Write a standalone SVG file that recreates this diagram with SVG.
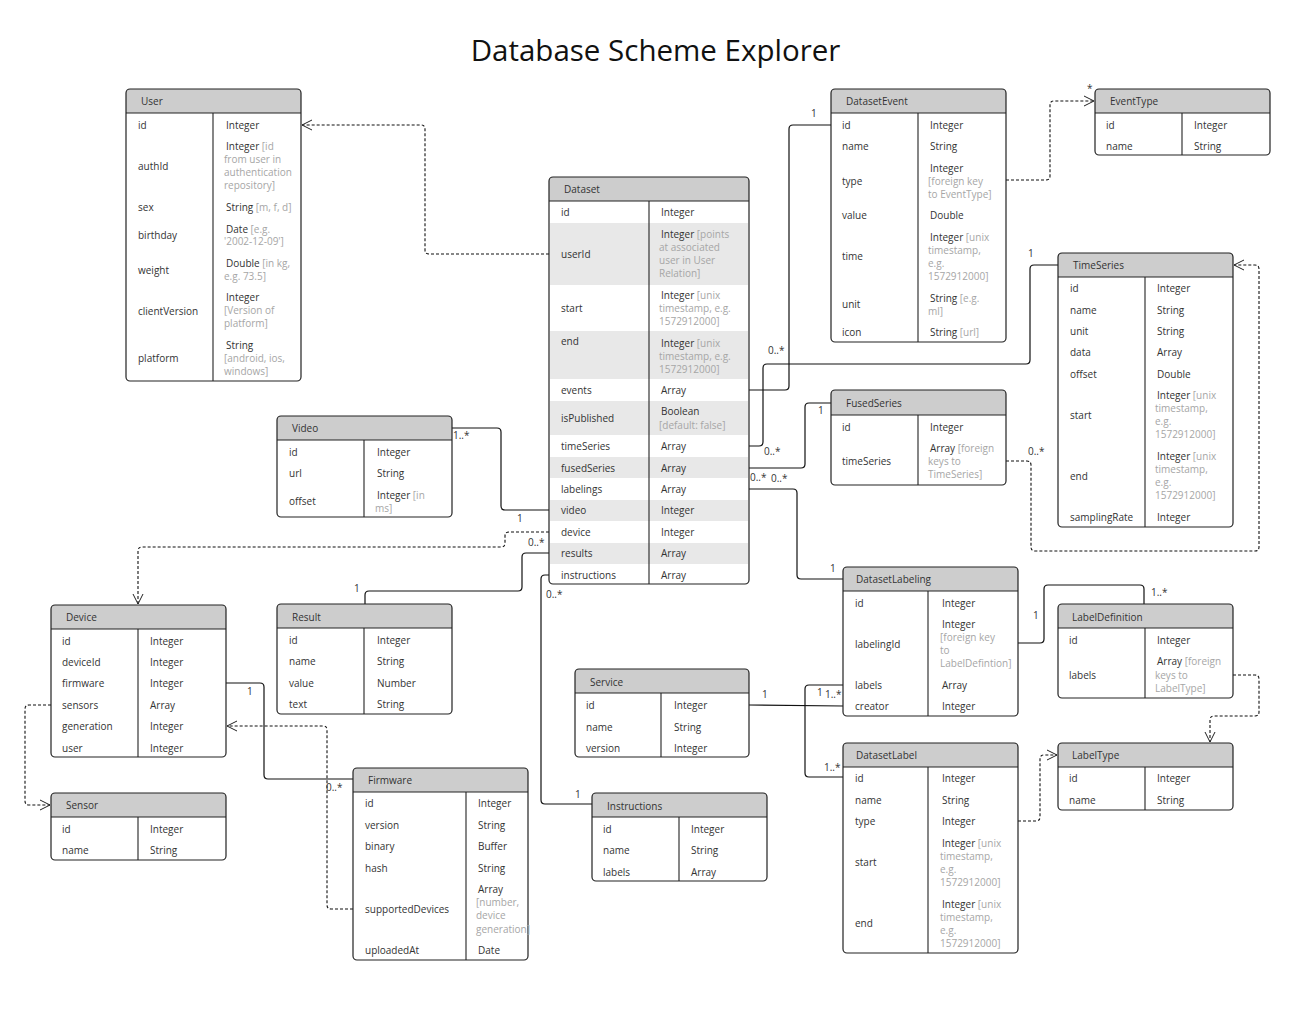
<svg xmlns="http://www.w3.org/2000/svg" width="1305" height="1018" viewBox="0 0 1305 1018">
<style>
text{font-family:"Open Sans","Noto Sans","DejaVu Sans",sans-serif;font-size:10px;fill:#333}
.ttl{font-size:29.5px;fill:#111}
.a{fill:#a6a6a6}
.bg{fill:#fff;stroke:none}
.hd{fill:#cdcdcd;stroke:none}
.sh{fill:#e8e8e8;stroke:none}
.ln{stroke:#222;stroke-width:1.1;fill:none}
.ol{fill:none;stroke:#222;stroke-width:1.2}
.c{fill:none;stroke:#111;stroke-width:1.2}
.d{fill:none;stroke:#111;stroke-width:1.1;stroke-dasharray:3 2}
</style>
<defs>
<marker id="arr" viewBox="0 0 12 12" refX="11" refY="6" markerWidth="12" markerHeight="12" markerUnits="userSpaceOnUse" orient="auto">
<path d="M1,1 L11,6 L1,11" fill="none" stroke="#222" stroke-width="1"/>
</marker>
</defs>
<rect width="1305" height="1018" fill="#fff"/>
<text x="655.5" y="61" text-anchor="middle" class="ttl">Database Scheme Explorer</text>

<g id="connectors">
<path class="d" marker-end="url(#arr)" d="M549,254H429Q425,254 425,250V129Q425,125 421,125H302"/>
<path class="c" d="M749,390H785Q789,390 789,386V129Q789,125 793,125H831"/>
<path class="c" d="M749,446H759Q763,446 763,442V368Q763,364 767,364H1026Q1030,364 1030,360V269Q1030,265 1034,265H1058"/>
<path class="c" d="M749,468H801Q805,468 805,464V407Q805,403 809,403H831"/>
<path class="c" d="M749,489H793Q797,489 797,493V575Q797,579 801,579H843"/>
<path class="c" d="M549,510H505Q501,510 501,506V432Q501,428 497,428H452"/>
<path class="d" marker-end="url(#arr)" d="M549,532H509Q505,532 505,536V543Q505,547 501,547H142Q138,547 138,551V604"/>
<path class="c" d="M549,553H526Q522,553 522,557V587Q522,591 518,591H369Q365,591 365,595V604"/>
<path class="c" d="M549,575H545Q541,575 541,579V800Q541,804 545,804H592"/>
<path class="c" d="M226,683H260Q264,683 264,687V775Q264,779 268,779H353"/>
<path class="d" marker-end="url(#arr)" d="M353,909H331Q327,909 327,905V730Q327,726 323,726H227"/>
<path class="d" marker-end="url(#arr)" d="M51,705H29Q25,705 25,709V801Q25,805 29,805H50"/>
<path class="d" marker-end="url(#arr)" d="M1006,180H1046Q1050,180 1050,176V105Q1050,101 1054,101H1094"/>
<path class="d" marker-end="url(#arr)" d="M1006,461H1027Q1031,461 1031,465V547Q1031,551 1035,551H1255Q1259,551 1259,547V269Q1259,265 1255,265H1234"/>
<path class="c" d="M749,705L843,706"/>
<path class="c" d="M843,685H809Q805,685 805,689V773Q805,777 809,777H843"/>
<path class="c" d="M1018,643H1040Q1044,643 1044,639V589Q1044,585 1048,585H1140Q1144,585 1144,589V604"/>
<path class="d" marker-end="url(#arr)" d="M1233,675H1255Q1259,675 1259,679V712Q1259,716 1255,716H1214Q1210,716 1210,720V742"/>
<path class="d" marker-end="url(#arr)" d="M1018,821H1036Q1040,821 1040,817V759Q1040,755 1044,755H1057"/>
<text x="811" y="117">1</text>
<text x="768" y="354">0..*</text>
<text x="1028" y="257">1</text>
<text x="764" y="455">0..*</text>
<text x="818" y="414">1</text>
<text x="750" y="481">0..*</text>
<text x="771" y="482">0..*</text>
<text x="830" y="572">1</text>
<text x="453" y="439">1..*</text>
<text x="517" y="522">1</text>
<text x="528" y="546">0..*</text>
<text x="354" y="592">1</text>
<text x="546" y="598">0..*</text>
<text x="575" y="798">1</text>
<text x="247" y="695">1</text>
<text x="326" y="791">0..*</text>
<text x="1087" y="92">*</text>
<text x="1028" y="455">0..*</text>
<text x="762" y="698">1</text>
<text x="817" y="696">1</text>
<text x="825" y="698">1..*</text>
<text x="824" y="771">1..*</text>
<text x="1033" y="619">1</text>
<text x="1151" y="596">1..*</text>
</g>

<g id="user">
<rect x="126" y="89" width="175" height="292" rx="4" class="bg"/>
<path class="hd" d="M126,113V93Q126,89 130,89H297Q301,89 301,93V113Z"/>
<line class="ln" x1="126" y1="113" x2="301" y2="113"/>
<line class="ln" x1="213" y1="113" x2="213" y2="381"/>
<rect x="126" y="89" width="175" height="292" rx="4" class="ol"/>
<text x="141" y="105">User</text>
<text x="138" y="129">id</text><text x="226" y="129">Integer</text>
<text x="138" y="170">authId</text>
<text x="226" y="150">Integer <tspan class="a">[id</tspan></text>
<text x="224" y="163" class="a">from user in</text>
<text x="224" y="176" class="a">authentication</text>
<text x="224" y="189" class="a">repository]</text>
<text x="138" y="211">sex</text><text x="226" y="211">String <tspan class="a">[m, f, d]</tspan></text>
<text x="138" y="239">birthday</text>
<text x="226" y="233">Date <tspan class="a">[e.g.</tspan></text>
<text x="224" y="245" class="a">'2002-12-09']</text>
<text x="138" y="274">weight</text>
<text x="226" y="267">Double <tspan class="a">[in kg,</tspan></text>
<text x="224" y="280" class="a">e.g. 73.5]</text>
<text x="138" y="315">clientVersion</text>
<text x="226" y="301">Integer</text>
<text x="224" y="314" class="a">[Version of</text>
<text x="224" y="327" class="a">platform]</text>
<text x="138" y="362">platform</text>
<text x="226" y="349">String</text>
<text x="224" y="362" class="a">[android, ios,</text>
<text x="224" y="375" class="a">windows]</text>
</g>

<g id="dataset">
<rect x="549" y="177" width="200" height="407" rx="4" class="bg"/>
<path class="hd" d="M549,201V181Q549,177 553,177H745Q749,177 749,181V201Z"/>
<rect class="sh" x="550" y="223" width="198" height="62"/>
<rect class="sh" x="550" y="331" width="198" height="48"/>
<rect class="sh" x="550" y="401" width="198" height="34"/>
<rect class="sh" x="550" y="457" width="198" height="21"/>
<rect class="sh" x="550" y="500" width="198" height="21"/>
<rect class="sh" x="550" y="543" width="198" height="21"/>
<line class="ln" x1="549" y1="201" x2="749" y2="201"/>
<line class="ln" x1="649" y1="201" x2="649" y2="584"/>
<rect x="549" y="177" width="200" height="407" rx="4" class="ol"/>
<text x="564" y="193">Dataset</text>
<text x="561" y="216">id</text><text x="661" y="216">Integer</text>
<text x="561" y="258">userId</text>
<text x="661" y="238">Integer <tspan class="a">[points</tspan></text>
<text x="659" y="251" class="a">at associated</text>
<text x="659" y="264" class="a">user in User</text>
<text x="659" y="277" class="a">Relation]</text>
<text x="561" y="312">start</text>
<text x="661" y="299">Integer <tspan class="a">[unix</tspan></text>
<text x="659" y="312" class="a">timestamp, e.g.</text>
<text x="659" y="325" class="a">1572912000]</text>
<text x="561" y="345">end</text>
<text x="661" y="347">Integer <tspan class="a">[unix</tspan></text>
<text x="659" y="360" class="a">timestamp, e.g.</text>
<text x="659" y="373" class="a">1572912000]</text>
<text x="561" y="394">events</text><text x="661" y="394">Array</text>
<text x="561" y="422">isPublished</text>
<text x="661" y="415">Boolean</text>
<text x="659" y="429" class="a">[default: false]</text>
<text x="561" y="450">timeSeries</text><text x="661" y="450">Array</text>
<text x="561" y="472">fusedSeries</text><text x="661" y="472">Array</text>
<text x="561" y="493">labelings</text><text x="661" y="493">Array</text>
<text x="561" y="514">video</text><text x="661" y="514">Integer</text>
<text x="561" y="536">device</text><text x="661" y="536">Integer</text>
<text x="561" y="557">results</text><text x="661" y="557">Array</text>
<text x="561" y="579">instructions</text><text x="661" y="579">Array</text>
</g>

<g id="datasetevent">
<rect x="831" y="89" width="175" height="253" rx="4" class="bg"/>
<path class="hd" d="M831,113V93Q831,89 835,89H1002Q1006,89 1006,93V113Z"/>
<line class="ln" x1="831" y1="113" x2="1006" y2="113"/>
<line class="ln" x1="918" y1="113" x2="918" y2="342"/>
<rect x="831" y="89" width="175" height="253" rx="4" class="ol"/>
<text x="846" y="105">DatasetEvent</text>
<text x="842" y="129">id</text><text x="930" y="129">Integer</text>
<text x="842" y="150">name</text><text x="930" y="150">String</text>
<text x="842" y="185">type</text>
<text x="930" y="172">Integer</text>
<text x="928" y="185" class="a">[foreign key</text>
<text x="928" y="198" class="a">to EventType]</text>
<text x="842" y="219">value</text><text x="930" y="219">Double</text>
<text x="842" y="260">time</text>
<text x="930" y="241">Integer <tspan class="a">[unix</tspan></text>
<text x="928" y="254" class="a">timestamp,</text>
<text x="928" y="267" class="a">e.g.</text>
<text x="928" y="280" class="a">1572912000]</text>
<text x="842" y="308">unit</text>
<text x="930" y="302">String <tspan class="a">[e.g.</tspan></text>
<text x="928" y="315" class="a">ml]</text>
<text x="842" y="336">icon</text><text x="930" y="336">String <tspan class="a">[url]</tspan></text>
</g>

<g id="eventtype">
<rect x="1095" y="89" width="175" height="66" rx="4" class="bg"/>
<path class="hd" d="M1095,113V93Q1095,89 1099,89H1266Q1270,89 1270,93V113Z"/>
<line class="ln" x1="1095" y1="113" x2="1270" y2="113"/>
<line class="ln" x1="1182" y1="113" x2="1182" y2="155"/>
<rect x="1095" y="89" width="175" height="66" rx="4" class="ol"/>
<text x="1110" y="105">EventType</text>
<text x="1106" y="129">id</text><text x="1194" y="129">Integer</text>
<text x="1106" y="150">name</text><text x="1194" y="150">String</text>
</g>

<g id="timeseries">
<rect x="1058" y="253" width="175" height="274" rx="4" class="bg"/>
<path class="hd" d="M1058,277V257Q1058,253 1062,253H1229Q1233,253 1233,257V277Z"/>
<line class="ln" x1="1058" y1="277" x2="1233" y2="277"/>
<line class="ln" x1="1145" y1="277" x2="1145" y2="527"/>
<rect x="1058" y="253" width="175" height="274" rx="4" class="ol"/>
<text x="1073" y="269">TimeSeries</text>
<text x="1070" y="292">id</text><text x="1157" y="292">Integer</text>
<text x="1070" y="314">name</text><text x="1157" y="314">String</text>
<text x="1070" y="335">unit</text><text x="1157" y="335">String</text>
<text x="1070" y="356">data</text><text x="1157" y="356">Array</text>
<text x="1070" y="378">offset</text><text x="1157" y="378">Double</text>
<text x="1070" y="419">start</text>
<text x="1157" y="399">Integer <tspan class="a">[unix</tspan></text>
<text x="1155" y="412" class="a">timestamp,</text>
<text x="1155" y="425" class="a">e.g.</text>
<text x="1155" y="438" class="a">1572912000]</text>
<text x="1070" y="480">end</text>
<text x="1157" y="460">Integer <tspan class="a">[unix</tspan></text>
<text x="1155" y="473" class="a">timestamp,</text>
<text x="1155" y="486" class="a">e.g.</text>
<text x="1155" y="499" class="a">1572912000]</text>
<text x="1070" y="521">samplingRate</text><text x="1157" y="521">Integer</text>
</g>

<g id="fusedseries">
<rect x="831" y="390" width="175" height="95" rx="4" class="bg"/>
<path class="hd" d="M831,415V394Q831,390 835,390H1002Q1006,390 1006,394V415Z"/>
<line class="ln" x1="831" y1="415" x2="1006" y2="415"/>
<line class="ln" x1="918" y1="415" x2="918" y2="485"/>
<rect x="831" y="390" width="175" height="95" rx="4" class="ol"/>
<text x="846" y="407">FusedSeries</text>
<text x="842" y="431">id</text><text x="930" y="431">Integer</text>
<text x="842" y="465">timeSeries</text>
<text x="930" y="452">Array <tspan class="a">[foreign</tspan></text>
<text x="928" y="465" class="a">keys to</text>
<text x="928" y="478" class="a">TimeSeries]</text>
</g>

<g id="video">
<rect x="277" y="416" width="175" height="101" rx="4" class="bg"/>
<path class="hd" d="M277,440V420Q277,416 281,416H448Q452,416 452,420V440Z"/>
<line class="ln" x1="277" y1="440" x2="452" y2="440"/>
<line class="ln" x1="364" y1="440" x2="364" y2="517"/>
<rect x="277" y="416" width="175" height="101" rx="4" class="ol"/>
<text x="292" y="432">Video</text>
<text x="289" y="456">id</text><text x="377" y="456">Integer</text>
<text x="289" y="477">url</text><text x="377" y="477">String</text>
<text x="289" y="505">offset</text>
<text x="377" y="499">Integer <tspan class="a">[in</tspan></text>
<text x="375" y="512" class="a">ms]</text>
</g>

<g id="device">
<rect x="51" y="605" width="175" height="152" rx="4" class="bg"/>
<path class="hd" d="M51,629V609Q51,605 55,605H222Q226,605 226,609V629Z"/>
<line class="ln" x1="51" y1="629" x2="226" y2="629"/>
<line class="ln" x1="138" y1="629" x2="138" y2="757"/>
<rect x="51" y="605" width="175" height="152" rx="4" class="ol"/>
<text x="66" y="621">Device</text>
<text x="62" y="645">id</text><text x="150" y="645">Integer</text>
<text x="62" y="666">deviceId</text><text x="150" y="666">Integer</text>
<text x="62" y="687">firmware</text><text x="150" y="687">Integer</text>
<text x="62" y="709">sensors</text><text x="150" y="709">Array</text>
<text x="62" y="730">generation</text><text x="150" y="730">Integer</text>
<text x="62" y="752">user</text><text x="150" y="752">Integer</text>
</g>

<g id="sensor">
<rect x="51" y="793" width="175" height="67" rx="4" class="bg"/>
<path class="hd" d="M51,817V797Q51,793 55,793H222Q226,793 226,797V817Z"/>
<line class="ln" x1="51" y1="817" x2="226" y2="817"/>
<line class="ln" x1="138" y1="817" x2="138" y2="860"/>
<rect x="51" y="793" width="175" height="67" rx="4" class="ol"/>
<text x="66" y="809">Sensor</text>
<text x="62" y="833">id</text><text x="150" y="833">Integer</text>
<text x="62" y="854">name</text><text x="150" y="854">String</text>
</g>

<g id="result">
<rect x="277" y="604" width="175" height="110" rx="4" class="bg"/>
<path class="hd" d="M277,628V608Q277,604 281,604H448Q452,604 452,608V628Z"/>
<line class="ln" x1="277" y1="628" x2="452" y2="628"/>
<line class="ln" x1="364" y1="628" x2="364" y2="714"/>
<rect x="277" y="604" width="175" height="110" rx="4" class="ol"/>
<text x="292" y="621">Result</text>
<text x="289" y="644">id</text><text x="377" y="644">Integer</text>
<text x="289" y="665">name</text><text x="377" y="665">String</text>
<text x="289" y="687">value</text><text x="377" y="687">Number</text>
<text x="289" y="708">text</text><text x="377" y="708">String</text>
</g>

<g id="firmware">
<rect x="353" y="768" width="175" height="192" rx="4" class="bg"/>
<path class="hd" d="M353,792V772Q353,768 357,768H524Q528,768 528,772V792Z"/>
<line class="ln" x1="353" y1="792" x2="528" y2="792"/>
<line class="ln" x1="466" y1="792" x2="466" y2="960"/>
<rect x="353" y="768" width="175" height="192" rx="4" class="ol"/>
<text x="368" y="784">Firmware</text>
<text x="365" y="807">id</text><text x="478" y="807">Integer</text>
<text x="365" y="829">version</text><text x="478" y="829">String</text>
<text x="365" y="850">binary</text><text x="478" y="850">Buffer</text>
<text x="365" y="872">hash</text><text x="478" y="872">String</text>
<text x="365" y="913">supportedDevices</text>
<text x="478" y="893">Array</text>
<text x="476" y="906" class="a">[number,</text>
<text x="476" y="919" class="a">device</text>
<text x="476" y="933" class="a">generation]</text>
<text x="365" y="954">uploadedAt</text><text x="478" y="954">Date</text>
</g>

<g id="instructions">
<rect x="592" y="793" width="175" height="88" rx="4" class="bg"/>
<path class="hd" d="M592,817V797Q592,793 596,793H763Q767,793 767,797V817Z"/>
<line class="ln" x1="592" y1="817" x2="767" y2="817"/>
<line class="ln" x1="679" y1="817" x2="679" y2="881"/>
<rect x="592" y="793" width="175" height="88" rx="4" class="ol"/>
<text x="607" y="810">Instructions</text>
<text x="603" y="833">id</text><text x="691" y="833">Integer</text>
<text x="603" y="854">name</text><text x="691" y="854">String</text>
<text x="603" y="876">labels</text><text x="691" y="876">Array</text>
</g>

<g id="service">
<rect x="575" y="669" width="174" height="88" rx="4" class="bg"/>
<path class="hd" d="M575,693V673Q575,669 579,669H745Q749,669 749,673V693Z"/>
<line class="ln" x1="575" y1="693" x2="749" y2="693"/>
<line class="ln" x1="661" y1="693" x2="661" y2="757"/>
<rect x="575" y="669" width="174" height="88" rx="4" class="ol"/>
<text x="590" y="686">Service</text>
<text x="586" y="709">id</text><text x="674" y="709">Integer</text>
<text x="586" y="731">name</text><text x="674" y="731">String</text>
<text x="586" y="752">version</text><text x="674" y="752">Integer</text>
</g>

<g id="datasetlabeling">
<rect x="843" y="567" width="175" height="149" rx="4" class="bg"/>
<path class="hd" d="M843,591V571Q843,567 847,567H1014Q1018,567 1018,571V591Z"/>
<line class="ln" x1="843" y1="591" x2="1018" y2="591"/>
<line class="ln" x1="928" y1="591" x2="928" y2="716"/>
<rect x="843" y="567" width="175" height="149" rx="4" class="ol"/>
<text x="856" y="583">DatasetLabeling</text>
<text x="855" y="607">id</text><text x="942" y="607">Integer</text>
<text x="855" y="648">labelingId</text>
<text x="942" y="628">Integer</text>
<text x="940" y="641" class="a">[foreign key</text>
<text x="940" y="654" class="a">to</text>
<text x="940" y="667" class="a">LabelDefintion]</text>
<text x="855" y="689">labels</text><text x="942" y="689">Array</text>
<text x="855" y="710">creator</text><text x="942" y="710">Integer</text>
</g>

<g id="labeldefinition">
<rect x="1058" y="604" width="175" height="94" rx="4" class="bg"/>
<path class="hd" d="M1058,628V608Q1058,604 1062,604H1229Q1233,604 1233,608V628Z"/>
<line class="ln" x1="1058" y1="628" x2="1233" y2="628"/>
<line class="ln" x1="1145" y1="628" x2="1145" y2="698"/>
<rect x="1058" y="604" width="175" height="94" rx="4" class="ol"/>
<text x="1072" y="621">LabelDefinition</text>
<text x="1069" y="644">id</text><text x="1157" y="644">Integer</text>
<text x="1069" y="679">labels</text>
<text x="1157" y="665">Array <tspan class="a">[foreign</tspan></text>
<text x="1155" y="679" class="a">keys to</text>
<text x="1155" y="692" class="a">LabelType]</text>
</g>

<g id="datasetlabel">
<rect x="843" y="743" width="175" height="210" rx="4" class="bg"/>
<path class="hd" d="M843,767V747Q843,743 847,743H1014Q1018,743 1018,747V767Z"/>
<line class="ln" x1="843" y1="767" x2="1018" y2="767"/>
<line class="ln" x1="928" y1="767" x2="928" y2="953"/>
<rect x="843" y="743" width="175" height="210" rx="4" class="ol"/>
<text x="856" y="759">DatasetLabel</text>
<text x="855" y="782">id</text><text x="942" y="782">Integer</text>
<text x="855" y="804">name</text><text x="942" y="804">String</text>
<text x="855" y="825">type</text><text x="942" y="825">Integer</text>
<text x="855" y="866">start</text>
<text x="942" y="847">Integer <tspan class="a">[unix</tspan></text>
<text x="940" y="860" class="a">timestamp,</text>
<text x="940" y="873" class="a">e.g.</text>
<text x="940" y="886" class="a">1572912000]</text>
<text x="855" y="927">end</text>
<text x="942" y="908">Integer <tspan class="a">[unix</tspan></text>
<text x="940" y="921" class="a">timestamp,</text>
<text x="940" y="934" class="a">e.g.</text>
<text x="940" y="947" class="a">1572912000]</text>
</g>

<g id="labeltype">
<rect x="1058" y="743" width="175" height="67" rx="4" class="bg"/>
<path class="hd" d="M1058,767V747Q1058,743 1062,743H1229Q1233,743 1233,747V767Z"/>
<line class="ln" x1="1058" y1="767" x2="1233" y2="767"/>
<line class="ln" x1="1145" y1="767" x2="1145" y2="810"/>
<rect x="1058" y="743" width="175" height="67" rx="4" class="ol"/>
<text x="1072" y="759">LabelType</text>
<text x="1069" y="782">id</text><text x="1157" y="782">Integer</text>
<text x="1069" y="804">name</text><text x="1157" y="804">String</text>
</g>
</svg>
